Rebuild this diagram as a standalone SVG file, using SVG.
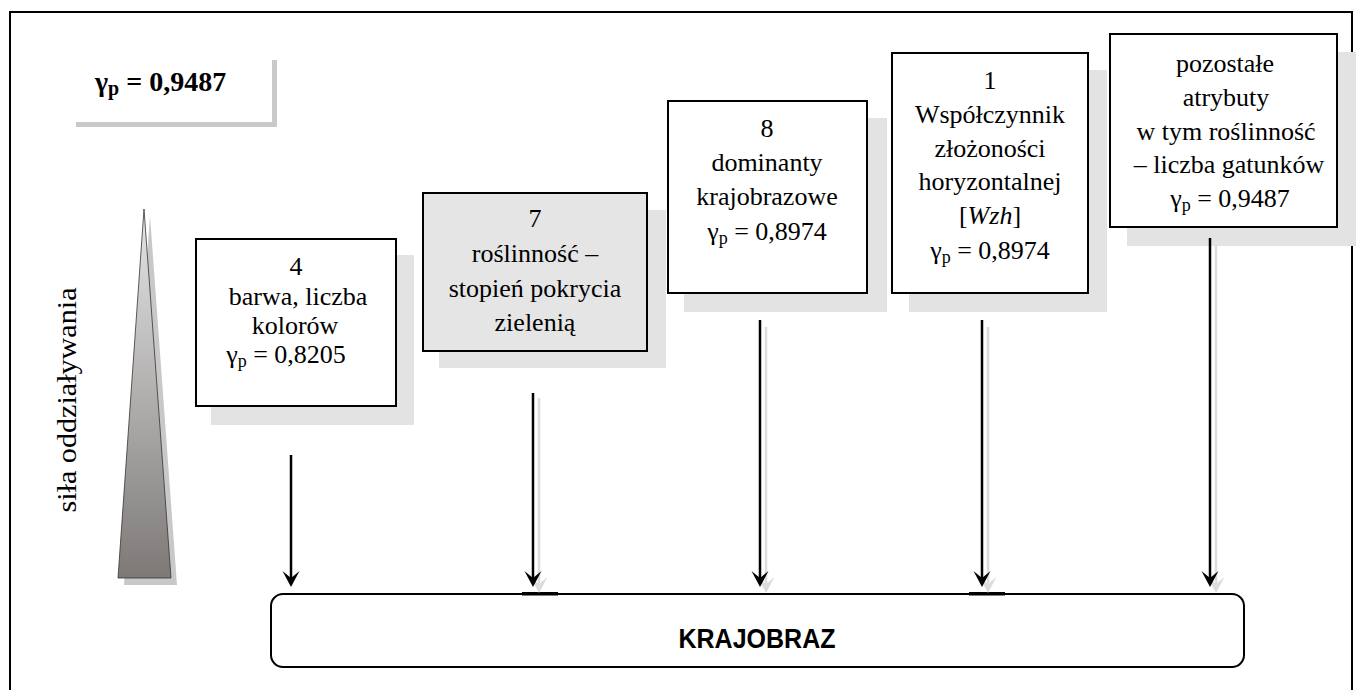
<svg xmlns="http://www.w3.org/2000/svg" width="1356" height="690" viewBox="0 0 1356 690">
<style>
.t{font-size:26px;fill:#000;text-anchor:middle}
.box{fill:#fff;stroke:#000;stroke-width:2}
.shadow{fill:#e3e3e3}
.ln{stroke:#000;stroke-width:2.5;fill:none}
.lns{stroke:#dcdcdc;stroke-width:2.5;fill:none}
</style>
<defs>
<linearGradient id="tri" x1="0" y1="0" x2="0" y2="1">
<stop offset="0" stop-color="#e6e6e6"/>
<stop offset="0.5" stop-color="#b2b0af"/>
<stop offset="1" stop-color="#7c7977"/>
</linearGradient>
<marker id="ah" markerUnits="userSpaceOnUse" viewBox="-17 -9 18 18" refX="-9" refY="0" markerWidth="18" markerHeight="18" orient="auto">
<path d="M0,0 L-16,-8.5 L-9,0 L-16,8.5 Z" fill="#000"/>
</marker>
<marker id="ahs" markerUnits="userSpaceOnUse" viewBox="-17 -9 18 18" refX="-9" refY="0" markerWidth="18" markerHeight="18" orient="auto">
<path d="M0,0 L-16,-8.5 L-9,0 L-16,8.5 Z" fill="#dcdcdc"/>
</marker>
</defs>
<rect width="1356" height="690" fill="#fff"/>
<rect x="10" y="12" width="1342" height="700" fill="none" stroke="#000" stroke-width="2"/>

<g font-family="'Liberation Serif', 'Times New Roman', serif">
<g id="gamma-total">
<rect x="76" y="60" width="201" height="67" fill="#c9c9c9"/>
<rect x="71" y="55" width="201" height="67" fill="#fff"/>
<text x="95" y="91" font-size="28" font-weight="bold">γ<tspan font-size="20" dy="4">p</tspan><tspan dy="-4"> = 0,9487</tspan></text>
</g>

<g id="scale">
<polygon points="150,216 124,585 177,585" fill="#c8c8c8"/>
<polygon points="144,209 118,578 171,578" fill="url(#tri)" stroke="#333" stroke-width="0.8"/>
<text transform="translate(76,400) rotate(-90)" font-size="28" text-anchor="middle" textLength="225" lengthAdjust="spacingAndGlyphs">siła oddziaływania</text>
</g>

<g id="node-4">
<rect class="shadow" x="211" y="255" width="203" height="170"/>
<rect class="box" x="196" y="239" width="200" height="167"/>
<text class="t" x="296" y="275">4</text>
<text class="t" x="298" y="305">barwa, liczba</text>
<text class="t" x="295" y="334">kolorów</text>
<text class="t" x="286" y="363">γ<tspan font-size="18" dy="4">p</tspan><tspan dy="-4"> = 0,8205</tspan></text>
</g>

<g id="node-7">
<rect class="shadow" x="439" y="210" width="227" height="158"/>
<rect class="box" x="423" y="193" width="224" height="158" style="fill:#e5e5e5"/>
<text class="t" x="535" y="227">7</text>
<text class="t" x="535" y="262">roślinność –</text>
<text class="t" x="535" y="297">stopień pokrycia</text>
<text class="t" x="535" y="331">zielenią</text>
</g>

<g id="node-8">
<rect class="shadow" x="684" y="118" width="203" height="194"/>
<rect class="box" x="668" y="101" width="199" height="192"/>
<text class="t" x="767" y="137">8</text>
<text class="t" x="767" y="171">dominanty</text>
<text class="t" x="767" y="205">krajobrazowe</text>
<text class="t" x="767" y="240">γ<tspan font-size="18" dy="4">p</tspan><tspan dy="-4"> = 0,8974</tspan></text>
</g>

<g id="node-1">
<rect class="shadow" x="909" y="70" width="198" height="242"/>
<rect class="box" x="892" y="53" width="196" height="240"/>
<text class="t" x="990" y="89">1</text>
<text class="t" x="990" y="123">Współczynnik</text>
<text class="t" x="990" y="157">złożoności</text>
<text class="t" x="990" y="190">horyzontalnej</text>
<text class="t" x="990" y="224">[<tspan font-style="italic">Wzh</tspan>]</text>
<text class="t" x="990" y="259">γ<tspan font-size="18" dy="4">p</tspan><tspan dy="-4"> = 0,8974</tspan></text>
</g>

<g id="node-pozostale">
<rect class="shadow" x="1127" y="52" width="229" height="194"/>
<rect class="box" x="1110" y="34" width="227" height="193"/>
<text class="t" x="1225" y="72">pozostałe</text>
<text class="t" x="1226" y="106">atrybuty</text>
<text class="t" x="1226" y="140">w tym roślinność</text>
<text class="t" x="1229" y="173">– liczba gatunków</text>
<text class="t" x="1230" y="207">γ<tspan font-size="18" dy="4">p</tspan><tspan dy="-4"> = 0,9487</tspan></text>
</g>
</g>

<g id="krajobraz">
<rect x="271" y="594" width="973" height="73" rx="12" ry="12" fill="#fff" stroke="#000" stroke-width="2"/>
<rect x="522" y="592" width="36" height="3.5" fill="#000"/>
<rect x="969" y="592" width="36" height="3.5" fill="#000"/>
<text x="757" y="648" textLength="157" lengthAdjust="spacingAndGlyphs" font-family="'Liberation Sans', Arial, sans-serif" font-size="27" font-weight="bold" text-anchor="middle">KRAJOBRAZ</text>
</g>

<g id="connectors">
<line class="lns" x1="539" y1="398" x2="539" y2="584" marker-end="url(#ahs)"/>
<line class="lns" x1="766" y1="327" x2="766" y2="584" marker-end="url(#ahs)"/>
<line class="lns" x1="988" y1="327" x2="988" y2="584" marker-end="url(#ahs)"/>
<line class="lns" x1="1216" y1="245" x2="1216" y2="584" marker-end="url(#ahs)"/>
<line class="ln" x1="291" y1="455" x2="291" y2="578" marker-end="url(#ah)"/>
<line class="ln" x1="533" y1="393" x2="533" y2="578" marker-end="url(#ah)"/>
<line class="ln" x1="760" y1="320" x2="760" y2="578" marker-end="url(#ah)"/>
<line class="ln" x1="982" y1="320" x2="982" y2="578" marker-end="url(#ah)"/>
<line class="ln" x1="1210" y1="238" x2="1210" y2="578" marker-end="url(#ah)"/>
</g>
</svg>
